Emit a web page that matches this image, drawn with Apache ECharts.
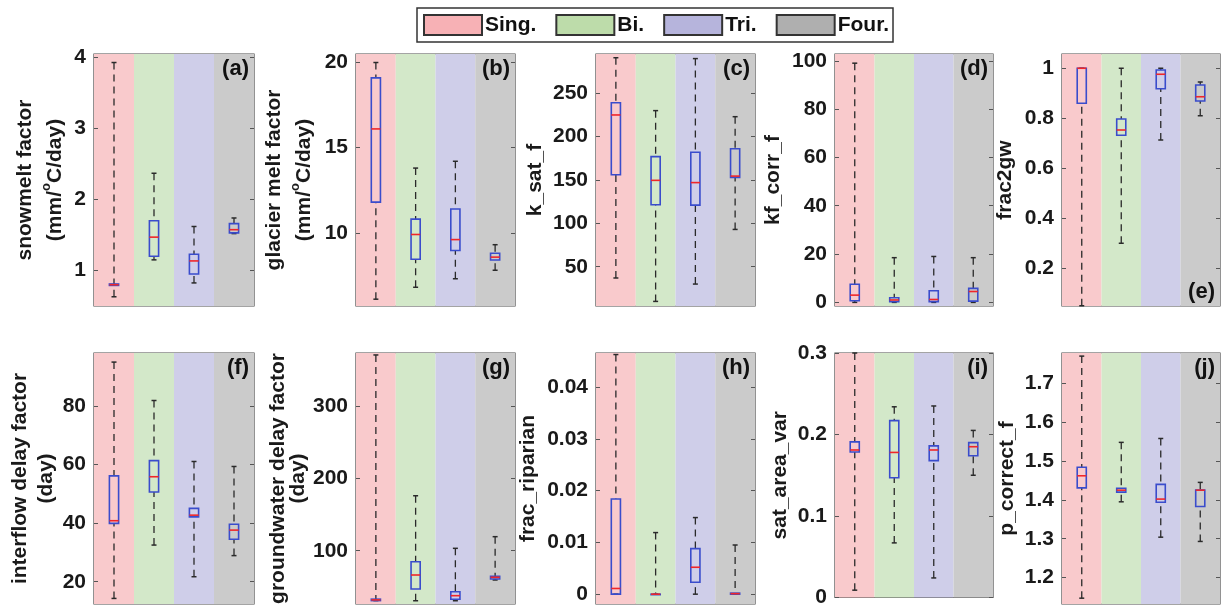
<!DOCTYPE html>
<html><head><meta charset="utf-8">
<script src="https://cdn.jsdelivr.net/npm/echarts@6/dist/echarts.min.js"></script>
<style>html,body{margin:0;padding:0;background:#fff}#c{width:1222px;height:608px}</style>
</head><body><div id="c"></div>
<script>
// ---------------- data ----------------
const categories = ['Sing.', 'Bi.', 'Tri.', 'Four.'];
// each row: [lower whisker, q1, median, q3, upper whisker]
const snowmelt     = [[0.62, 0.78, 0.79, 0.80, 3.92], [1.14, 1.19, 1.46, 1.69, 2.36], [0.815, 0.94, 1.125, 1.22, 1.61], [1.51, 1.52, 1.565, 1.65, 1.73]];
const glacierMelt  = [[6.1, 11.8, 16.1, 19.1, 20.0], [6.8, 8.45, 9.9, 10.8, 13.8], [7.3, 8.96, 9.6, 11.4, 14.2], [7.8, 8.4, 8.57, 8.8, 9.3]];
const kSatF        = [[37, 156, 225, 239, 291], [10, 121.5, 149.6, 177, 230], [30, 121, 147, 182, 290], [93, 153, 154.5, 186, 223]];
const kfCorrF      = [[0, 0.7, 3, 7.5, 99], [0, 0.3, 1.0, 1.9, 18.5], [0, 0.3, 1.2, 4.8, 19], [0, 0.5, 4.5, 5.8, 18.5]];
const frac2gw      = [[0.05, 0.86, 1.0, 1.0, 1.0], [0.30, 0.732, 0.753, 0.797, 1.0], [0.713, 0.918, 0.976, 0.993, 1.0], [0.81, 0.869, 0.886, 0.933, 0.945]];
const interflow    = [[14.3, 39.9, 40.8, 56.1, 94.9], [32.5, 50.6, 55.8, 61.3, 81.8], [21.7, 42.1, 42.7, 45, 61], [28.9, 34.5, 37.6, 39.6, 59.3]];
const groundwater  = [[31, 31, 32, 33, 370.7], [30.8, 47, 66.4, 84.8, 176], [30.8, 32.8, 37.8, 43.3, 103.3], [59.5, 60.9, 63.2, 64.6, 119.4]];
const fracRiparian = [[0, 0, 0.0011, 0.0184, 0.0463], [0, 0, 0, 0, 0.0119], [0, 0.0023, 0.0052, 0.0088, 0.0148], [0, 0, 0.0001, 0.0002, 0.0095]];
const satAreaVar   = [[0.009, 0.1786, 0.181, 0.191, 0.300], [0.067, 0.147, 0.178, 0.217, 0.234], [0.024, 0.168, 0.181, 0.186, 0.235], [0.15, 0.174, 0.185, 0.19, 0.205]];
const pCorrectF    = [[1.147, 1.431, 1.462, 1.484, 1.770], [1.395, 1.420, 1.425, 1.430, 1.548], [1.304, 1.394, 1.402, 1.440, 1.558], [1.293, 1.383, 1.425, 1.425, 1.445]];

const panelData = [snowmelt, glacierMelt, kSatF, kfCorrF, frac2gw, interflow, groundwater, fracRiparian, satAreaVar, pCorrectF];
const panelLabels = ['(a)', '(b)', '(c)', '(d)', '(e)', '(f)', '(g)', '(h)', '(i)', '(j)'];
const yNames = [
  '{n|snowmelt factor}\n{n|(mm/}{s|o}{n|C/day)}',
  '{n|glacier melt factor}\n{n|(mm/}{s|o}{n|C/day)}',
  '{n|k_sat_f}',
  '{n|kf_corr_f}',
  '{n|frac2gw}',
  '{n|interflow delay factor}\n{n|(day)}',
  '{n|groundwater delay factor}\n{n|(day)}',
  '{n|frac_riparian}',
  '{n|sat_area_var}',
  '{n|p_correct_f}'
];
const yMin = [0.49, 5.7, 4.7, -1.5, 0.049, 12.4, 26.3, -0.0019, 0, 1.132];
const yMax = [4.04, 20.5, 295.3, 102.8, 1.057, 98, 373.4, 0.0466, 0.3, 1.778];
const yTicks = [
  [1, 2, 3, 4],
  [10, 15, 20],
  [50, 100, 150, 200, 250],
  [0, 20, 40, 60, 80, 100],
  [0.2, 0.4, 0.6, 0.8, 1],
  [20, 40, 60, 80],
  [100, 200, 300],
  [0, 0.01, 0.02, 0.03, 0.04],
  [0, 0.1, 0.2, 0.3],
  [1.2, 1.3, 1.4, 1.5, 1.6, 1.7]
];

// ---------------- styles / layout ----------------
const bandColors = ['#f9cacc', '#d3e8c9', '#cfcee9', '#cbcbcb'];
const legendColors = ['#f7b1b5', '#bddcaa', '#b6b4dc', '#afafaf'];
const FONT = '"Liberation Sans", Arial, Helvetica, sans-serif';
const colLeft = [94, 356, 596, 835, 1062];
const colWidth = [160, 159, 159, 158, 158];
const rowTop = [54, 353];
const rowHeight = [252, 251];
const nameGaps = [24, 37, 45, 48, 43, 30, 47, 54, 40, 40];
const nameLineHeights = [30, 30, 27, 27, 27, 26, 20, 27, 27, 27];

function renderBox(params, api) {
  const k = api.value(0);
  const p = [1, 2, 3, 4, 5].map(d => api.coord([k, api.value(d)]));
  const cx = p[0][0];
  const bw = api.size([1, 0])[0];
  const hw = bw * 0.115;
  const cw = 2.5;
  const wStyle = { stroke: '#2a2a2a', lineWidth: 1.3, lineDash: [7, 5] };
  const cStyle = { stroke: '#2a2a2a', lineWidth: 1.5 };
  const children = [];
  if (p[4][1] < p[3][1] - 0.5) children.push({ type: 'line', shape: { x1: cx, y1: p[4][1], x2: cx, y2: p[3][1] }, style: wStyle });
  if (p[0][1] > p[1][1] + 0.5) children.push({ type: 'line', shape: { x1: cx, y1: p[0][1], x2: cx, y2: p[1][1] }, style: wStyle });
  children.push({ type: 'line', shape: { x1: cx - cw, y1: p[4][1], x2: cx + cw, y2: p[4][1] }, style: cStyle });
  children.push({ type: 'line', shape: { x1: cx - cw, y1: p[0][1], x2: cx + cw, y2: p[0][1] }, style: cStyle });
  children.push({ type: 'rect', shape: { x: cx - hw, y: p[3][1], width: 2 * hw, height: Math.max(p[1][1] - p[3][1], 0.5) },
    style: { fill: 'none', stroke: '#3a4ccc', lineWidth: 1.6 } });
  children.push({ type: 'line', shape: { x1: cx - hw, y1: p[2][1], x2: cx + hw, y2: p[2][1] }, style: { stroke: '#f0262a', lineWidth: 1.6 } });
  return { type: 'group', children };
}

const grids = [], xAxes = [], yAxes = [], series = [], graphics = [];
panelData.forEach((vals, i) => {
  const r = Math.floor(i / 5), c = i % 5;
  const lh = nameLineHeights[i];
  grids.push({ left: colLeft[c], top: rowTop[r], width: colWidth[c], height: rowHeight[r],
    show: true, borderColor: '#4a4a4a', borderWidth: 1.2, backgroundColor: 'transparent', containLabel: false });
  xAxes.push({ type: 'category', gridIndex: i, data: categories, boundaryGap: true,
    axisLine: { show: false }, axisTick: { show: false }, axisLabel: { show: false },
    splitLine: { show: false },
    splitArea: { show: true, interval: 0, areaStyle: { color: bandColors, opacity: 1 } } });
  const labelStyle = { show: true, customValues: yTicks[i], fontSize: 21, fontWeight: 'bold', color: '#1a1a1a',
    fontFamily: FONT, margin: 8, showMinLabel: true, showMaxLabel: true };
  yAxes.push({ type: 'value', gridIndex: i, position: 'left', min: yMin[i], max: yMax[i], z: 3,
    axisLine: { show: false }, splitLine: { show: false },
    axisTick: { show: true, inside: true, length: 4, customValues: yTicks[i], lineStyle: { color: '#555', width: 1 } },
    axisLabel: labelStyle,
    name: yNames[i], nameLocation: 'middle', nameRotate: 90, nameGap: nameGaps[i],
    nameTextStyle: { fontFamily: FONT, fontWeight: 'bold', fontSize: 21, color: '#1a1a1a', lineHeight: lh,
      rich: { n: { fontFamily: FONT, fontWeight: 'bold', fontSize: 21, color: '#1a1a1a', lineHeight: lh },
              s: { fontFamily: FONT, fontWeight: 'bold', fontSize: 13, color: '#1a1a1a', lineHeight: lh, verticalAlign: 'top' } } } });
  yAxes.push({ type: 'value', gridIndex: i, position: 'right', min: yMin[i], max: yMax[i], z: 3,
    axisLine: { show: false }, splitLine: { show: false }, axisLabel: { show: false },
    axisTick: { show: true, inside: true, length: 4, customValues: yTicks[i], lineStyle: { color: '#555', width: 1 } } });
  series.push({ type: 'custom', name: 'box' + i, xAxisIndex: i, yAxisIndex: 2 * i, z: 4,
    renderItem: renderBox, encode: { x: 0, y: [1, 2, 3, 4, 5] },
    data: vals.map((v, k) => [k].concat(v)) });
  const bottomLabel = i === 4;
  graphics.push({ type: 'text', z: 10,
    x: colLeft[c] + colWidth[c] - 5,
    y: bottomLabel ? rowTop[r] + rowHeight[r] - 3 : rowTop[r] + 4,
    style: { text: panelLabels[i], fill: '#111', font: 'bold 22px ' + FONT, textAlign: 'right',
      textVerticalAlign: bottomLabel ? 'bottom' : 'top' } });
});

categories.forEach((name, k) => {
  series.push({ type: 'bar', name: name, xAxisIndex: 0, yAxisIndex: 0, data: [],
    itemStyle: { color: legendColors[k], borderColor: '#333', borderWidth: 1 } });
});

const chart = echarts.init(document.getElementById('c'), null, { renderer: 'canvas' });
chart.setOption({
  animation: false,
  backgroundColor: '#ffffff',
  legend: { data: categories, left: 417, top: 8, orient: 'horizontal', selectedMode: false,
    icon: 'rect', itemWidth: 58, itemHeight: 20, itemGap: 19,
    padding: [6, 4, 6, 6], borderColor: '#333', borderWidth: 1.5,
    textStyle: { fontFamily: FONT, fontWeight: 'bold', fontSize: 21, color: '#111', padding: [0, 0, 0, -2] } },
  grid: grids,
  xAxis: xAxes,
  yAxis: yAxes,
  series: series,
  graphic: graphics
});
</script>
</body></html>
